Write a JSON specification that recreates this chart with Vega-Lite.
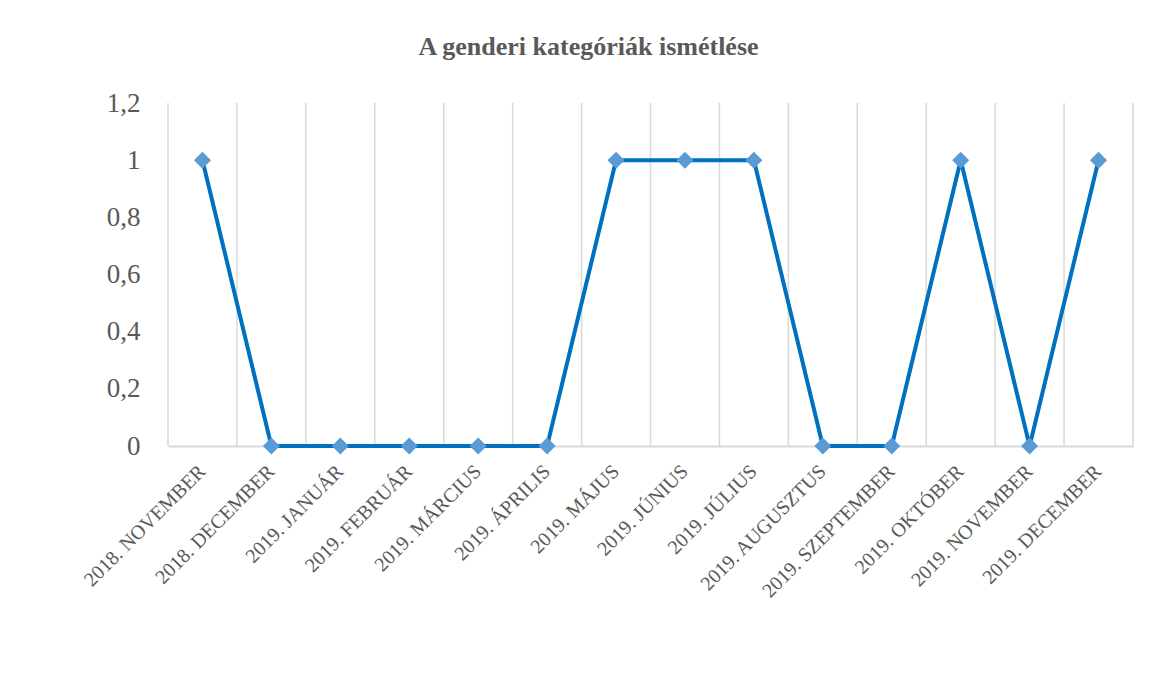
{
  "$schema": "https://vega.github.io/schema/vega-lite/v6.json",
  "width": 965,
  "height": 343,
  "autosize": {"type": "none"},
  "padding": {"left": 168, "top": 103, "right": 16, "bottom": 231},
  "background": "white",
  "config": {"view": {"stroke": null}, "font": "Liberation Serif"},
  "title": {
    "text": "A genderi kategóriák ismétlése",
    "font": "Liberation Serif",
    "fontSize": 26,
    "fontWeight": "bold",
    "color": "#595959",
    "anchor": "middle",
    "frame": "group",
    "dx": -62,
    "baseline": "alphabetic",
    "offset": 8
  },
  "data": {
    "values": [
      {"honap": "2018. NOVEMBER", "ertek": 1},
      {"honap": "2018. DECEMBER", "ertek": 0},
      {"honap": "2019. JANUÁR", "ertek": 0},
      {"honap": "2019. FEBRUÁR", "ertek": 0},
      {"honap": "2019. MÁRCIUS", "ertek": 0},
      {"honap": "2019. ÁPRILIS", "ertek": 0},
      {"honap": "2019. MÁJUS", "ertek": 1},
      {"honap": "2019. JÚNIUS", "ertek": 1},
      {"honap": "2019. JÚLIUS", "ertek": 1},
      {"honap": "2019. AUGUSZTUS", "ertek": 0},
      {"honap": "2019. SZEPTEMBER", "ertek": 0},
      {"honap": "2019. OKTÓBER", "ertek": 1},
      {"honap": "2019. NOVEMBER", "ertek": 0},
      {"honap": "2019. DECEMBER", "ertek": 1}
    ]
  },
  "layer": [
    {
      "mark": {"type": "rule", "color": "#D9D9D9", "strokeWidth": 1.5},
      "encoding": {
        "x": {"field": "honap", "type": "nominal", "sort": null, "bandPosition": 0,
              "scale": {"type": "band", "paddingInner": 0, "paddingOuter": 0}}
      }
    },
    {
      "transform": [{"filter": "datum.honap === '2019. DECEMBER'"}],
      "mark": {"type": "rule", "color": "#D9D9D9", "strokeWidth": 1.5},
      "encoding": {
        "x": {"field": "honap", "type": "nominal", "sort": null, "bandPosition": 1}
      }
    },
    {
      "mark": {"type": "line", "color": "#0070C0", "strokeWidth": 4},
      "encoding": {
        "x": {
          "field": "honap", "type": "nominal", "sort": null,
          "axis": {
            "title": null,
            "grid": false,
            "ticks": false,
            "domain": true,
            "domainColor": "#D9D9D9",
            "domainWidth": 2,
            "labelAngle": -45,
            "labelAlign": "right",
            "labelBaseline": "middle",
            "labelPadding": 22,
            "labelFont": "Liberation Serif",
            "labelFontSize": 20,
            "labelColor": "#595959",
            "labelOverlap": false
          }
        },
        "y": {
          "field": "ertek", "type": "quantitative",
          "scale": {"domain": [0, 1.2], "nice": false},
          "axis": {
            "title": null,
            "grid": false,
            "ticks": false,
            "domain": false,
            "values": [0, 0.2, 0.4, 0.6, 0.8, 1, 1.2],
            "labelExpr": "replace(format(datum.value, '.1~f'), '.', ',')",
            "labelPadding": 28,
            "labelFont": "Liberation Serif",
            "labelFontSize": 27,
            "labelColor": "#595959"
          }
        }
      }
    },
    {
      "mark": {"type": "point", "shape": "diamond", "filled": true, "color": "#5B9BD5", "size": 290, "opacity": 1},
      "encoding": {
        "x": {"field": "honap", "type": "nominal", "sort": null},
        "y": {"field": "ertek", "type": "quantitative"}
      }
    }
  ]
}
